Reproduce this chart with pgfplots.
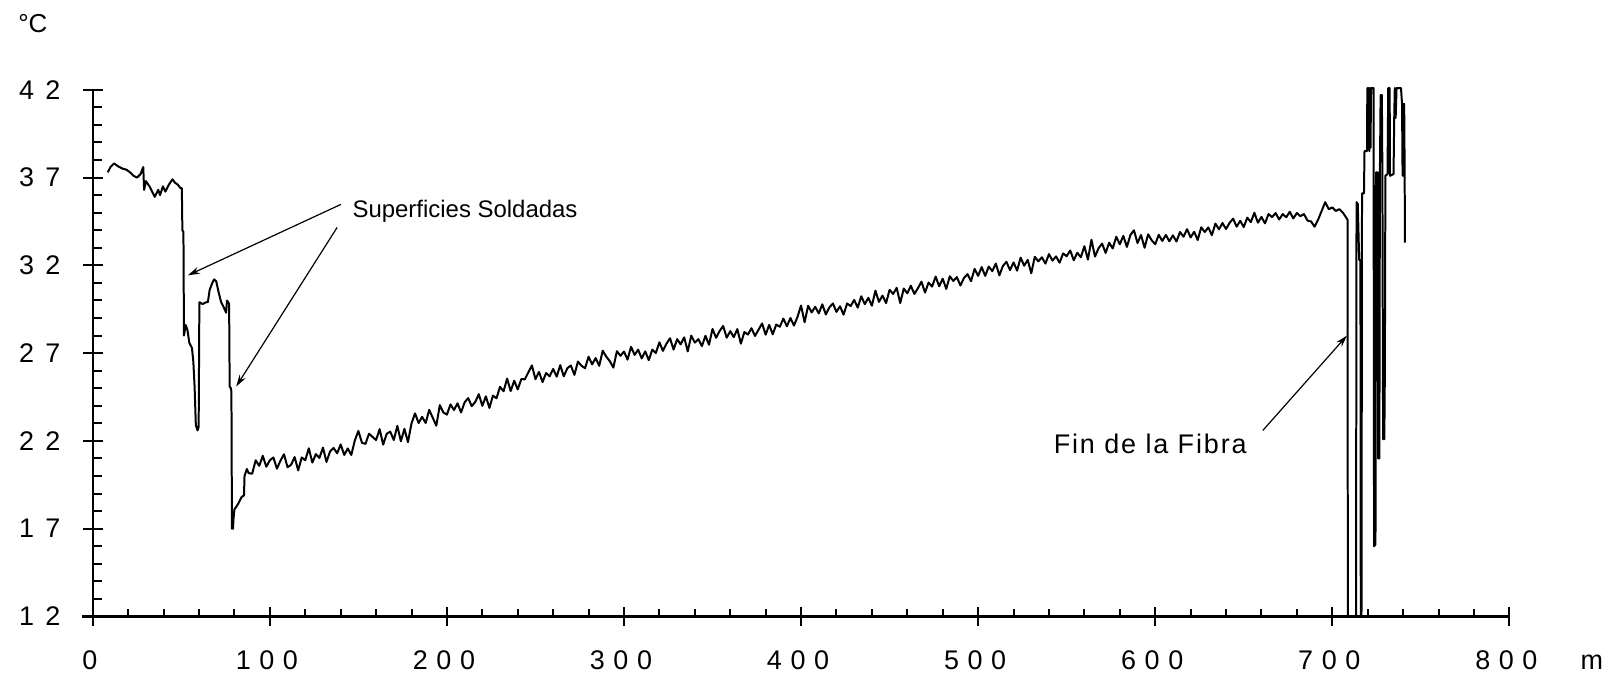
\documentclass[border=0pt]{standalone}
\usepackage{fontspec}
\setmainfont{Liberation Sans}
\newfontfamily\lspA{Liberation Sans}
\newfontfamily\lspB[LetterSpace=7]{Liberation Sans}
\usepackage{pgfplots}
\pgfplotsset{compat=1.18}
\usetikzlibrary{arrows.meta}
\newcommand{\g}{\hspace{0.32em}}
\newcommand{\gy}{\hspace{0.42em}}
\begin{document}
\begin{tikzpicture}
\begin{axis}[
  scale only axis, width=715.3pt, height=264pt,
  xmin=-6, xmax=800, ymin=12, ymax=42,
  axis lines=middle, axis line style={-, line width=1.1pt},
  hide obscured x ticks=false, hide obscured y ticks=false,
  xtick={0,100,...,800},
  xticklabels={0,1\g0\g0,2\g0\g0,3\g0\g0,4\g0\g0,5\g0\g0,6\g0\g0,7\g0\g0,8\g0\g0},
  ytick={12,17,...,42},
  yticklabels={1\gy2,1\gy7,2\gy2,2\gy7,3\gy2,3\gy7,4\gy2},
  minor x tick num=4, minor y tick num=4,
  tick align=center, major tick length=10pt, minor tick length=4pt,
  tick style={black, line width=1pt},
  minor x tick style={yshift=2pt},
  minor y tick style={xshift=2.5pt},
  xticklabel style={anchor=base, inner sep=0pt, yshift=-21.5pt, xshift=-1.5pt, font=\fontsize{13.5}{15}\selectfont},
  yticklabel style={anchor=east, inner sep=0pt, xshift=-11pt, font=\fontsize{13.5}{15}\selectfont},
  clip=false,
]
\addplot[black, line width=1pt, line join=round] coordinates {
(8.5,37.3) (10,37.6) (12,37.8) (13.5,37.7) (15,37.6) (17,37.5) (19,37.45) (21,37.3) (23,37.1) (25,37.0) (27,37.2) (28.5,37.6) (29,36.3) (30,36.8) (32,36.5) (34,36.1) (35,35.9) (37,36.3) (38,36.0) (39.6,36.5) (41,36.2) (43,36.6) (45,36.9) (46.5,36.7) (48,36.6) (49.5,36.4) (50.3,36.4) (50.6,34.0) (51.2,33.9) (51.5,28.0) (52.5,28.6) (53.5,28.3) (54.5,27.6) (56,27.3) (56.8,26.5) (57.5,25.1) (58.2,22.9) (59.2,22.6) (59.8,22.8) (60.2,29.9) (62,29.8) (64,29.9) (65,29.9) (66,30.6) (67.5,31.0) (68.5,31.2) (69.7,31.1) (71,30.5) (72.5,29.9) (74,29.6) (75.3,29.3) (75.8,30.0) (76.5,29.9) (77.0,29.8) (77.3,25.1) (78,25.0) (78.3,24.8) (78.6,17.0) (79.2,17.0) (79.5,17.6) (80,18.1) (82,18.4) (84,18.8) (85.4,18.9) (85.7,20.0) (87,20.4)
(88,20.17) (90,20.13) (92,20.9) (94,20.58) (96,21.15) (98,20.53) (100,20.9) (102,21.06) (104,20.42) (106,20.88) (108,21.24) (110,20.5) (112,20.64) (114,21.08) (116,20.32) (118,21.06) (120,20.9) (122,21.58) (124,20.77) (126,21.25) (128,21.03) (130,21.62) (132,20.8) (134,21.4) (136,21.6) (138,21.3) (140,21.8) (142,21.2) (144,21.57) (146,21.2) (148,22.03) (150,22.57) (152,21.9) (154,21.83) (156,22.41) (158,22.23) (160,22.05) (162,22.67) (164,21.79) (166,22.41) (168,22.53) (170,22.05) (172,22.86) (174,21.98) (176,22.69) (178,21.93) (180,23.0) (182,23.57) (184,23.02) (186,23.37) (188,23.02) (190,23.77) (192,23.32) (194,22.87) (196,24.04) (198,23.62) (200,23.5) (202,24.08) (204,23.76) (206,24.14) (208,23.62) (210,24.2) (212,24.44) (214,23.98) (216,24.22) (218,24.66) (220,24.0) (222,24.54) (224,23.88) (226,24.58) (228,24.43) (230,25.08) (232,24.83) (234,25.55) (236,24.84) (238,25.43) (240,24.93) (242,25.52) (244,25.51) (246,25.91) (248,26.3) (250,25.52) (252,25.93) (254,25.35) (256,25.87) (258,25.68) (260,26.1) (262,25.66) (264,26.32) (266,25.68) (268,26.14) (270,26.3) (272,25.76) (274,26.52) (276,26.28) (278,26.14) (280,26.8) (282,26.36) (284,26.72) (286,26.28) (288,27.14) (290,26.8) (292,26.54) (294,26.18) (296,27.11) (298,26.85) (300,27.09) (302,26.63) (304,27.36) (306,26.9) (308,27.2) (310,26.7) (312,27.1) (314,26.6) (316,27.2) (318,27.01) (320,27.62) (322,27.13) (324,27.54) (326,27.85) (328,27.2) (330,27.8) (332,27.5) (334,27.9) (336,27.1) (338,28.0) (340,27.6) (342,27.8) (344,27.4) (346,27.99) (348,27.48) (350,28.38) (352,27.87) (354,28.26) (356,28.55) (358,27.88) (360,28.25) (362,27.91) (364,28.37) (366,27.54) (368,28.2) (370,28.06) (372,28.42) (374,27.98) (376,28.34) (378,28.69) (380,28.05) (382,28.61) (384,28.07) (386,28.63) (388,28.5) (390,28.97) (392,28.53) (394,29.0) (396,28.57) (398,29.07) (400,29.71) (402,28.76) (404,29.7) (406,29.32) (408,29.64) (410,29.26) (412,29.78) (414,29.2) (416,29.61) (418,29.83) (420,29.35) (422,29.67) (424,29.19) (426,29.83) (428,29.68) (430,30.03) (432,29.59) (434,30.24) (436,29.79) (438,30.15) (440,29.7) (442,30.56) (444,29.92) (446,30.28) (448,29.85) (450,30.61) (452,30.37) (454,30.72) (456,29.85) (458,30.68) (460,30.41) (462,30.84) (464,30.37) (466,30.7) (468,31.07) (470,30.45) (472,31.02) (474,30.79) (476,31.36) (478,30.81) (480,31.24) (482,30.66) (484,31.38) (486,31.11) (488,31.33) (490,30.85) (492,31.28) (494,31.5) (496,31.1) (498,31.8) (500,31.4) (502,31.9) (504,31.4) (506,31.93) (508,31.67) (510,32.1) (512,31.43) (514,31.97) (516,32.2) (518,31.73) (520,32.17) (522,31.7) (524,32.44) (526,31.98) (528,32.31) (530,31.55) (532,32.49) (534,32.23) (536,32.46) (538,32.1) (540,32.64) (542,32.27) (544,32.51) (546,32.15) (548,32.68) (550,32.52) (552,32.85) (554,32.29) (556,32.72) (558,32.46) (560,33.09) (562,32.33) (564,33.46) (566,32.5) (568,32.97) (570,33.24) (572,32.71) (574,33.29) (576,32.96) (578,33.63) (580,33.2) (582,33.68) (584,33.05) (586,33.73) (588,34.0) (590,33.27) (592,33.73) (594,33.0) (596,33.77) (598,33.43) (600,33.2) (602,33.74) (604,33.39) (606,33.73) (608,33.37) (610,33.71) (612,33.36) (614,33.9) (616,33.63) (618,34.06) (620,33.59) (622,33.91) (624,33.44) (626,34.17) (628,33.9) (630,34.16) (632,33.72) (634,34.38) (636,34.05) (638,34.41) (640,34.07) (642,34.42) (644,34.66) (646,34.2) (648,34.54) (650,34.18) (652,34.72) (654,34.46) (656,35.0) (658,34.43) (660,34.76) (662,34.39) (664,34.92) (666,34.75) (668,34.98) (670,34.61) (672,34.92) (674,34.74) (676,35.05) (678,34.67) (680,34.98) (682,34.8) (684,34.92) (686,34.55) (688,34.5) (690,34.2) (692,34.6) (694,35.1) (696,35.6) (698,35.2) (700,35.3) (702,35.1) (704,35.2) (706,35.0) (708,34.7)
(708.6,34.6) (708.8,12) (713.4,12) (713.7,35.6) (714.4,35.5) (715.2,32.3) (715.9,32.3) (716.1,12) (716.5,12) (716.8,36.1) (717.9,36.1) (718.2,38.5) (719.6,38.5) (719.8,42.1) (720.2,38.6) (720.5,42.1) (720.9,38.5) (721.2,42.1) (721.6,38.7) (721.9,42.1) (723.3,42.1) (723.6,16.0) (724.4,16.1) (724.7,37.3) (725.6,37.3) (725.9,21.0) (726.6,21.0) (726.9,37.3) (727.3,41.7) (728.0,41.7) (728.3,37.3) (728.7,22.1) (729.4,22.1) (729.7,25.9) (730.0,37.1) (731.2,37.2) (731.6,42.1) (732.4,42.1) (732.6,37.1) (734.6,37.2) (735.0,40.5) (735.3,42.1) (735.8,40.4) (736.3,42.1) (738.8,42.1) (739.4,41.2) (739.7,37.1) (740.0,41.2) (740.3,37.1) (740.6,41.2) (740.9,37.1) (741.0,33.3)
};
\node[anchor=base west, font=\lspA\fontsize{12}{14}\selectfont, inner sep=0pt] at (axis cs:146.5,34.73) {Superficies Soldadas};
\node[anchor=base west, font=\lspB\fontsize{13.5}{15}\selectfont, inner sep=0pt] at (axis cs:542.5,21.3) {Fin de la Fibra};
\draw[line width=0.6pt, -{Stealth[length=6pt,width=3.5pt]}] (axis cs:140.1,35.47) -- (axis cs:53.7,31.43);
\draw[line width=0.6pt, -{Stealth[length=6pt,width=3.5pt]}] (axis cs:138,34.16) -- (axis cs:81,25.1);
\draw[line width=0.6pt, -{Stealth[length=6pt,width=3.5pt]}] (axis cs:660.8,22.6) -- (axis cs:708.3,28.0);
\node[anchor=base west, inner sep=0pt, font=\fontsize{13.5}{15}\selectfont] at ([xshift=35.5pt,yshift=-26.5pt]axis cs:800,12) {m};
\node[anchor=base west, inner sep=0pt, font=\fontsize{13}{15}\selectfont] at ([xshift=-37.5pt,yshift=292.5pt]axis cs:0,12) {°C};
\path (axis cs:0,12) ++(-46.5pt,-30.5pt) rectangle ++(801.5pt,339.5pt);
\end{axis}
\end{tikzpicture}
\end{document}
